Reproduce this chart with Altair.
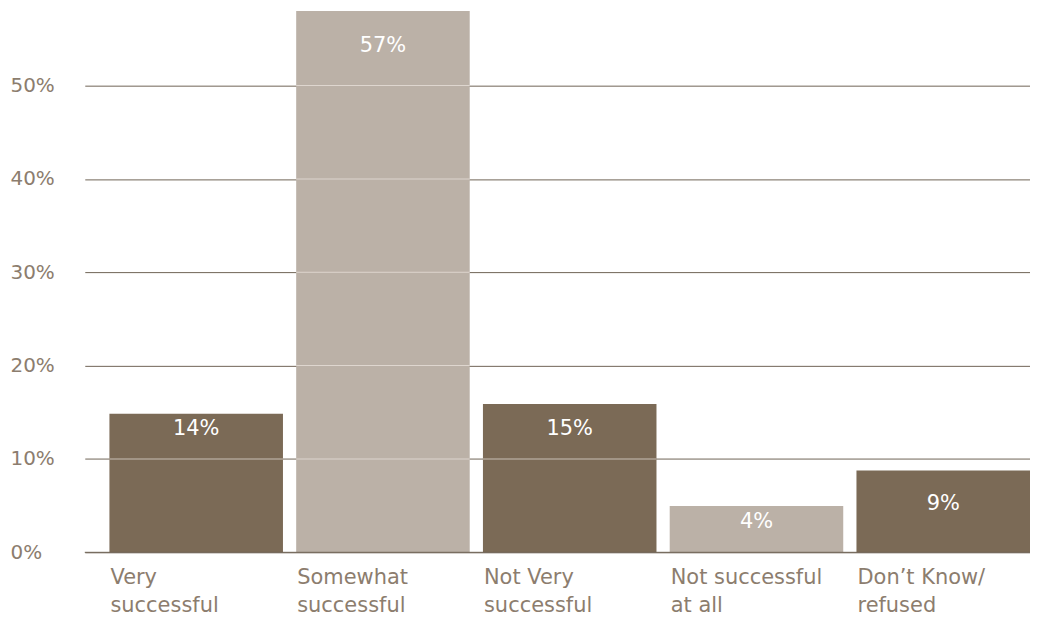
import altair as alt
import pandas as pd

categories = ["Very\nsuccessful", "Somewhat\nsuccessful", "Not Very\nsuccessful",
              "Not successful\nat all", "Don\u2019t Know/\nrefused"]
bar_values = [14.85, 58.0, 15.9, 4.95, 8.76]
bar_labels = ["14%", "57%", "15%", "4%", "9%"]
label_pos = [13.2, 54.2, 13.2, 3.2, 5.2]
shade = ["dark", "light", "dark", "light", "dark"]
y_ticks = [0, 10, 20, 30, 40, 50]

FONT = "DejaVu Sans"
DARK = "#7b6a56"
LIGHT = "#bbb1a7"
TEXT = "#8c7d6e"
GRID = "#6f6355"

df = pd.DataFrame({"cat": categories, "value": bar_values, "label": bar_labels,
                   "pos": label_pos, "shade": shade})

over = pd.DataFrame([{"cat": c, "t": t} for c, v in zip(categories, bar_values)
                     for t in y_ticks if 0 < t < v])

xscale = alt.Scale(domain=categories, paddingInner=0.0708, paddingOuter=0.066, align=1)
yscale = alt.Scale(domain=[0, 58], nice=False)

x_axis = alt.Axis(title=None, domain=False, ticks=False, labelAngle=0,
                  labelAlign="left", labelOffset=-86, labelBaseline="top",
                  labelPadding=14, labelFontSize=21, labelLineHeight=28,
                  labelColor=TEXT, labelFont=FONT,
                  labelExpr="split(datum.label, '\\n')")
y_axis = alt.Axis(title=None, domain=False, ticks=False, values=y_ticks,
                  labelExpr="datum.value + '%'", labelAlign="left",
                  labelPadding=75, labelBaseline="middle", labelFontSize=20,
                  labelColor=TEXT, labelFont=FONT, grid=True, gridColor=GRID,
                  gridWidth=1)

bars = alt.Chart(df).mark_bar().encode(
    x=alt.X("cat:N", scale=xscale, axis=x_axis, sort=categories),
    y=alt.Y("value:Q", scale=yscale, axis=y_axis),
    color=alt.Color("shade:N", scale=alt.Scale(domain=["dark", "light"], range=[DARK, LIGHT]),
                    legend=None),
)

white_lines = alt.Chart(over).mark_tick(orient="horizontal", size=174, thickness=1,
                                        color="#ece6e0").encode(
    x=alt.X("cat:N", scale=xscale, sort=categories),
    y=alt.Y("t:Q", scale=yscale),
)

base_line = alt.Chart(pd.DataFrame({"y": [0]})).mark_rule(color=GRID, strokeWidth=1).encode(
    y=alt.Y("y:Q", scale=yscale)
)

texts = alt.Chart(df).mark_text(color="white", fontSize=21, font=FONT,
                                align="center", baseline="middle").encode(
    x=alt.X("cat:N", scale=xscale, sort=categories),
    y=alt.Y("pos:Q", scale=yscale),
    text="label:N",
)

chart = alt.layer(bars, white_lines, base_line, texts).properties(
    width=948, height=543,
    autosize=alt.AutoSizeParams(type="none"),
    padding={"left": 77, "top": 2, "right": 0, "bottom": 66},
).configure(background="white").configure_view(strokeWidth=0, stroke="transparent")

chart.save("out.html", embed_options={"renderer": "svg", "actions": False})
